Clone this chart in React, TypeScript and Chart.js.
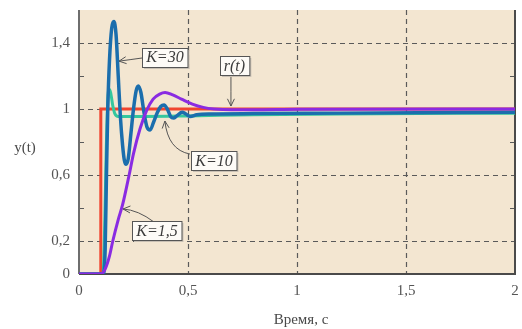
import React, { useEffect, useRef } from "react";
import { Chart, registerables } from "chart.js";

Chart.register(...registerables);

// ---- data ----
const rT = [0, 0.1, 0.1, 2];
const rY = [0, 0, 1, 1];

const k30T = [0, 0.1, 0.112, 0.12, 0.126, 0.132, 0.14, 0.15, 0.16, 0.17, 0.18, 0.19, 0.2, 0.208, 0.216, 0.226, 0.238, 0.25, 0.262, 0.272, 0.284, 0.298, 0.312, 0.326, 0.342, 0.36, 0.375, 0.39, 0.405, 0.42, 0.433, 0.45, 0.473, 0.49, 0.51, 0.54, 0.6, 0.8, 1.2, 2];
const k30Y = [0, 0, 0, 0.15, 0.6, 1.0, 1.3, 1.49, 1.53, 1.45, 1.2, 0.95, 0.78, 0.69, 0.665, 0.7, 0.85, 1.0, 1.11, 1.14, 1.1, 0.98, 0.89, 0.873, 0.92, 0.98, 1.015, 1.025, 1.0, 0.955, 0.945, 0.96, 0.98, 0.97, 0.955, 0.965, 0.97, 0.972, 0.975, 0.98];

const k10T = [0, 0.1, 0.11, 0.118, 0.125, 0.132, 0.138, 0.145, 0.155, 0.165, 0.18, 0.2, 0.3, 0.5, 0.8, 1.2, 2];
const k10Y = [0, 0, 0, 0.3, 0.75, 1.05, 1.12, 1.1, 1.02, 0.97, 0.955, 0.955, 0.955, 0.958, 0.965, 0.97, 0.975];

const k15T = [0, 0.1, 0.12, 0.14, 0.155, 0.18, 0.2, 0.23, 0.25, 0.28, 0.31, 0.34, 0.37, 0.395, 0.43, 0.47, 0.52, 0.57, 0.62, 0.7, 0.8, 1.0, 2];
const k15Y = [0, 0, 0.03, 0.11, 0.2, 0.33, 0.42, 0.6, 0.73, 0.88, 0.99, 1.06, 1.09, 1.1, 1.085, 1.06, 1.03, 1.01, 1.0, 0.995, 0.995, 0.998, 1.0];

const xTicks = [0, 0.5, 1, 1.5, 2];
const yTicks = [0, 0.2, 0.6, 1, 1.4];
const yMinorTicks = [0.4, 0.8, 1.2];
const xGrid = [0.5, 1, 1.5];
const yGrid = [0.2, 0.6, 1, 1.4];

// annotation labels (data coordinates)
const labelTexts = ["K=30", "r(t)", "K=10", "K=1,5"];
const labelPos = [
  [0.394, 1.315],
  [0.713, 1.261],
  [0.619, 0.685],
  [0.358, 0.261],
];
// arrows: [fromT, fromY, ctrlT, ctrlY, tipT, tipY]
const arrows = [
  [0.289, 1.309, 0.24, 1.30, 0.1835, 1.29],
  [0.697, 1.2, 0.697, 1.1, 0.697, 1.018],
  [0.509, 0.727, 0.408, 0.752, 0.394, 0.927],
  [0.344, 0.315, 0.271, 0.388, 0.202, 0.394],
];

const zip = (t: number[], y: number[]) => t.map((v, i) => ({ x: v, y: y[i] }));
const fmt = (v: number) => String(v).replace(".", ",");

const SERIF = "'Liberation Serif', 'Times New Roman', serif";

const framePlugin = {
  id: "frame",
  beforeDatasetsDraw(chart: any) {
    const { ctx, chartArea: a, scales } = chart;
    const xs = scales.x, ys = scales.y;
    ctx.save();
    ctx.fillStyle = "#f3e6d1";
    ctx.fillRect(a.left, a.top, a.right - a.left, a.bottom - a.top);
    ctx.strokeStyle = "#5a5a5a";
    ctx.lineWidth = 1.2;
    ctx.setLineDash([5, 4]);
    for (const g of xGrid) {
      const px = Math.round(xs.getPixelForValue(g)) + 0.5;
      ctx.beginPath();
      ctx.moveTo(px, a.top);
      ctx.lineTo(px, a.bottom);
      ctx.stroke();
    }
    for (const g of yGrid) {
      const py = Math.round(ys.getPixelForValue(g)) + 0.5;
      ctx.beginPath();
      ctx.moveTo(a.left, py);
      ctx.lineTo(a.right, py);
      ctx.stroke();
    }
    ctx.setLineDash([]);
    for (const m of yMinorTicks) {
      const py = Math.round(ys.getPixelForValue(m)) + 0.5;
      ctx.beginPath();
      ctx.moveTo(a.left, py);
      ctx.lineTo(a.left + 5, py);
      ctx.moveTo(a.right, py);
      ctx.lineTo(a.right - 5, py);
      ctx.stroke();
    }
    // frame
    ctx.lineWidth = 2;
    ctx.strokeStyle = "#6e6e6e";
    ctx.beginPath();
    ctx.moveTo(a.left, a.top);
    ctx.lineTo(a.left, a.bottom);
    ctx.stroke();
    ctx.strokeStyle = "#4a4a4a";
    ctx.beginPath();
    ctx.moveTo(a.left, a.bottom);
    ctx.lineTo(a.right, a.bottom);
    ctx.lineTo(a.right, a.top);
    ctx.stroke();
    ctx.restore();
  },
  afterDatasetsDraw(chart: any) {
    const { ctx, chartArea: a, scales } = chart;
    const xs = scales.x, ys = scales.y;
    ctx.save();
    // arrows
    ctx.strokeStyle = "#555";
    ctx.lineWidth = 1;
    for (const ar of arrows) {
      const fx = xs.getPixelForValue(ar[0]), fy = ys.getPixelForValue(ar[1]);
      const cx = xs.getPixelForValue(ar[2]), cy = ys.getPixelForValue(ar[3]);
      const tx = xs.getPixelForValue(ar[4]), ty = ys.getPixelForValue(ar[5]);
      ctx.beginPath();
      ctx.moveTo(fx, fy);
      ctx.quadraticCurveTo(cx, cy, tx, ty);
      ctx.stroke();
      const ang = Math.atan2(ty - cy, tx - cx);
      const L = 8, w = 0.45;
      ctx.beginPath();
      ctx.moveTo(tx - L * Math.cos(ang - w), ty - L * Math.sin(ang - w));
      ctx.lineTo(tx, ty);
      ctx.lineTo(tx - L * Math.cos(ang + w), ty - L * Math.sin(ang + w));
      ctx.stroke();
    }
    // labels
    ctx.font = "italic 16px " + SERIF;
    ctx.textAlign = "center";
    ctx.textBaseline = "middle";
    labelTexts.forEach((t, i) => {
      const px = xs.getPixelForValue(labelPos[i][0]);
      const py = ys.getPixelForValue(labelPos[i][1]);
      const w = ctx.measureText(t).width + 8;
      const h = 19;
      const l = Math.round(px - w / 2) + 0.5, tp = Math.round(py - h / 2) + 0.5;
      ctx.fillStyle = "#c8c0b4";
      ctx.fillRect(l + 1.5, tp + 1.5, w, h);
      ctx.fillStyle = "#fdfbf7";
      ctx.fillRect(l, tp, w, h);
      ctx.strokeStyle = "#555";
      ctx.lineWidth = 1;
      ctx.strokeRect(l, tp, w, h);
      ctx.fillStyle = "#3c3c3c";
      ctx.fillText(t, px, py + 1);
    });
    // axis titles
    ctx.font = "15px " + SERIF;
    ctx.fillStyle = "#4a4a4a";
    ctx.fillText("y(t)", 25, 148);
    ctx.fillText("Время, с", (a.left + a.right) / 2 + 4, 320);
    ctx.restore();
  },
};

export default function App() {
  const ref = useRef<HTMLCanvasElement>(null);
  useEffect(() => {
    if (!ref.current) return;
    const chart = new Chart(ref.current, {
      type: "line",
      data: {
        datasets: [
          { label: "r(t)", data: zip(rT, rY), borderColor: "#f0452f", borderWidth: 3, tension: 0, order: 4 },
          { label: "K=10", data: zip(k10T, k10Y), borderColor: "#35c79e", borderWidth: 3, cubicInterpolationMode: "monotone", order: 3 },
          { label: "K=30", data: zip(k30T, k30Y), borderColor: "#1b6ead", borderWidth: 3.5, cubicInterpolationMode: "monotone", order: 2 },
          { label: "K=1,5", data: zip(k15T, k15Y), borderColor: "#8a2be2", borderWidth: 3, cubicInterpolationMode: "monotone", order: 1 },
        ] as any,
      },
      options: {
        animation: false,
        responsive: false,
        devicePixelRatio: 1,
        layout: { padding: { top: 10, right: 7, left: 0, bottom: 0 } },
        elements: { point: { radius: 0 } },
        plugins: { legend: { display: false }, tooltip: { enabled: false } },
        scales: {
          x: {
            type: "linear",
            min: 0,
            max: 2,
            grid: { display: false, drawTicks: false },
            border: { display: false },
            afterBuildTicks: (s: any) => { s.ticks = xTicks.map((v) => ({ value: v })); },
            afterFit: (s: any) => { s.height = 55; s.paddingLeft = 0; s.paddingRight = 0; },
            ticks: { padding: 8, color: "#555", font: { family: SERIF, size: 15 }, callback: (v: any) => fmt(v), maxRotation: 0 },
          },
          y: {
            type: "linear",
            min: 0,
            max: 1.6,
            grid: { display: false, drawTicks: false },
            border: { display: false },
            afterBuildTicks: (s: any) => { s.ticks = yTicks.map((v) => ({ value: v })); },
            afterFit: (s: any) => { s.width = 79; s.paddingTop = 0; s.paddingBottom = 0; },
            ticks: { padding: 9, color: "#555", font: { family: SERIF, size: 15 }, callback: (v: any) => fmt(v) },
          },
        },
      } as any,
      plugins: [framePlugin],
    });
    return () => chart.destroy();
  }, []);
  return (
    <div style={{ position: "absolute", left: 0, top: 0, width: 522, height: 329, background: "#fff" }}>
      <canvas ref={ref} width={522} height={329} />
    </div>
  );
}
